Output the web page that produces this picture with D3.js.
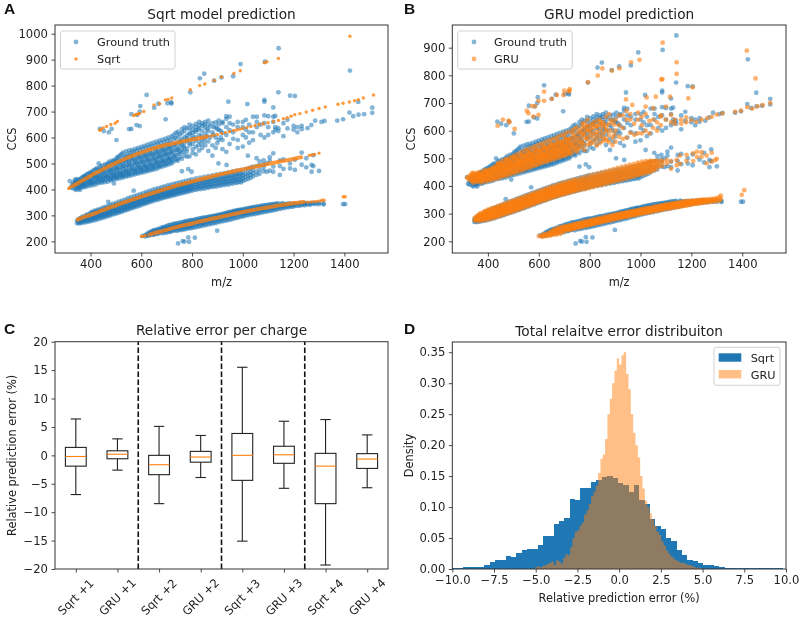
<!DOCTYPE html>
<html><head><meta charset="utf-8">
<script src="https://cdn.jsdelivr.net/npm/d3@7/dist/d3.min.js"></script>
<style>
html,body{margin:0;padding:0;background:#fff}
svg{display:block;filter:blur(0.4px)}
text{font-family:"DejaVu Sans",sans-serif;fill:#222}
</style></head><body><svg id="c" width="800" height="617"></svg>
<script>
// Each row: m/z followed by the CCS values read at that m/z
const truthLow=[[605,221],[615,219,224],[622,222,229],[629,221,226,233],[636,224,231,236],[643,226,233,240],[650,229,236,243,225],[657,230,238,244],[664,228,235,241,247],[671,232,240,248],[678,234,239,245,252],[685,231,241,247,255],[692,236,243,251,256],[699,233,240,249,258],[706,238,246,254,261],[713,236,243,252,263],[720,239,249,257,264],[727,241,247,255,267],[734,243,252,261,268],[741,240,250,258,269],[748,245,254,263,271],[755,243,251,260,272],[762,247,256,265,274],[769,245,253,268,276],[776,250,259,267,278],[783,248,256,271,279],[790,252,262,270,281],[797,250,259,274,282],[804,255,264,272,282],[811,253,268,277,284],[818,258,266,275,285],[825,256,270,281,287],[832,261,269,278,288],[839,259,273,284,290],[846,264,271,281,291],[853,262,276,287,292],[860,267,275,284,293],[867,265,279,290,295],[874,270,278,287,296],[881,268,282,293,297],[888,273,281,291,299],[895,271,285,296,300],[902,276,284,294,302],[909,274,288,299,303],[916,279,288,297,305],[923,277,291,302,307],[930,282,291,300,308],[937,280,295,306,310],[944,285,295,304,312],[951,283,298,309,313],[958,289,298,307,315],[965,287,302,313,317],[972,292,302,311,318],[979,290,306,316,320],[986,296,305,315,321],[993,294,309,319,322],[1000,298,306,315,323],[1007,297,310,319,325],[1014,302,309,318,326],[1021,300,313,321,328],[1028,305,312,320,329],[1035,303,316,324,331],[1042,307,315,323,332],[1049,305,319,326,333],[1056,310,318,326,334],[1063,308,321,329,335],[1070,313,320,328,336],[1077,311,324,331,337],[1084,315,323,331,338],[1091,314,327,333,339],[1098,317,326,333,340],[1105,316,329,335,341],[1112,320,328,335,342],[1119,319,331,337,343],[1126,323,331,337,344],[1133,322,333,339,345],[1140,326,333,339,346],[1148,325,335,341],[1156,329,335,342,347],[1164,328,337,343],[1172,332,338,344],[1180,331,339,345],[1188,334,340,346],[1196,333,341],[1204,336,342,347],[1214,337,343],[1224,337,342,348],[1234,340,345],[1244,339,344,348],[1254,342,347],[1264,341,346],[1274,344,348],[1286,343,348],[1300,343,348],[1318,342,346],[1395,343],[1403,343],[745,192],[763,201],[770,199],[785,215],[788,198],[811,214],[899,241]];
const truthMid=[[347,270,279],[352,272,284],[357,269,277,287],[362,274,282,290],[368,271,279,288,295],[374,276,285,293],[380,273,282,290,299],[386,278,288,297,303],[392,275,284,293,302],[398,281,290,299,308],[404,278,287,296,306,313],[410,284,293,302,311],[416,281,291,300,310,318],[422,287,296,305,315],[428,284,294,304,313,322],[434,291,300,309,319],[440,288,298,307,317,326],[446,294,303,313,322],[452,291,301,311,321,331],[458,298,307,316,326],[464,295,305,315,325,335],[470,301,311,320,330],[476,299,309,319,329,340],[482,305,314,324,334],[488,303,313,323,333,344],[494,309,318,328,338],[500,306,316,326,337,348],[506,312,322,332,342],[512,310,320,330,341,353],[518,316,326,336,346],[524,314,324,334,345,357],[530,320,330,340,350],[536,318,328,338,349,361],[542,324,334,344,354],[548,322,332,342,353,366],[554,328,338,348,358],[560,326,336,347,357,370],[566,332,342,352,362],[572,330,340,351,361,374],[578,336,346,356,366],[584,334,344,355,365,378],[590,340,350,360,370],[596,338,348,359,369,382],[602,344,354,364,374],[608,342,352,363,373,386],[614,348,358,368,378],[620,346,356,367,377,390],[626,352,362,372,382],[632,350,360,371,381,394],[638,356,366,376,386],[644,354,364,375,385,398],[650,360,369,379,389],[656,358,368,379,389,402],[662,363,373,383,393],[668,361,371,382,392,405],[674,367,377,387,397],[680,365,375,385,396,409],[686,370,380,390,400],[692,368,378,389,399,412],[698,373,383,393,403],[704,371,381,392,402,415],[710,376,386,396,406],[716,374,384,395,405,418],[722,379,389,399,409],[728,377,387,398,408,421],[734,382,392,402,412],[740,380,390,401,411,424],[746,385,395,405,415],[752,383,393,404,414,427],[758,388,398,408,418],[764,386,396,407,417,430],[770,391,401,411,421],[776,389,399,410,420,433],[782,394,404,414,424],[788,392,402,412,423,436],[794,397,407,417,427],[800,395,405,415,426,439],[808,400,410,420,430],[816,398,408,418,429,442],[824,403,413,423,433],[832,401,411,421,432,445],[840,405,415,426,436],[848,403,414,424,435,448],[856,408,418,428,438],[864,406,416,427,438,451],[872,411,421,431,441],[880,409,419,430,441,454],[888,413,423,434,444],[896,411,422,433,444,457],[904,416,426,436,447,500],[912,414,425,436,447,460],[920,419,429,439,449],[928,417,428,439,450,463],[936,421,431,441,452,494],[944,419,430,441,453,466],[952,424,434,444,455],[960,422,433,444,456,469],[968,427,437,447,458],[976,425,436,447,459,472],[984,429,439,450,461],[992,427,438,450,462,475],[1000,432,442,453,464],[1010,436,448,460,478],[1020,440,452,464,480,530],[1030,444,456,468,484],[1040,450,462,474,488],[1054,456,468,490,520],[1066,460,475,493,508],[1082,470,485,496,512],[1094,468,500],[1106,472,510,524],[1120,468,488,539],[1146,456,490,512],[1160,479,516],[1186,481,500],[1205,475,514],[1232,495,542],[1250,485,520],[1271,468,494],[1278,490,532],[1300,471],[798,468],[785,478],[760,470],[570,395],[470,352]];
const truthUpper=[[318,432],[322,408],[328,405,418],[333,415,427],[338,402,420,436],[343,398,412,428,440],[348,406,418,433],[353,403,414,426,440],[358,408,422,437,398],[363,411,426,442],[368,407,418,432,447],[373,414,424,438,450],[378,409,428,444,452],[384,412,422,436,449,458],[390,418,431,443,460],[396,414,426,438,452,464],[402,421,433,447,466],[408,416,428,442,456,470],[414,424,437,451,474],[420,419,431,446,461,478],[426,428,441,456,482],[432,424,436,451,468,500],[438,430,446,460,476,488],[444,426,441,455,472,492],[450,433,449,464,481],[456,428,443,458,475,496],[462,436,452,468,486],[468,430,446,462,480,500],[474,439,455,471,490,507],[480,434,449,465,484,502],[486,442,458,474,494,512],[492,423,438,452,469,488,508],[498,445,461,478,498,516],[504,440,456,472,492,510,522],[510,448,464,482,502,526],[516,443,459,476,496,514,530],[522,451,467,486,506,536],[528,446,462,480,500,520,542],[534,454,470,490,510,528],[540,449,465,484,504,524,546],[546,456,473,493,513,534],[552,452,468,487,508,528,550],[558,459,476,496,516,540],[564,455,471,490,511,532,552],[570,462,479,499,519,544],[576,458,474,493,514,535,556],[582,465,482,502,522,548],[588,461,477,496,517,538,560],[594,468,485,505,525,552],[600,464,480,499,520,541,564],[606,471,488,508,528,556],[612,467,483,503,524,545,568],[618,474,491,511,532,560],[624,470,486,507,527,548,572],[630,477,494,514,535,563],[636,473,489,510,530,552,576],[642,480,497,517,538,566],[648,476,493,513,534,555,580],[654,484,501,521,541,570],[660,479,497,517,537,558,584],[666,488,505,525,545,574],[672,484,501,521,541,562,588],[678,492,509,529,549,578],[684,488,505,525,545,566,592],[690,496,513,533,553,582],[696,492,510,530,549,570,596],[702,500,517,537,557,586],[708,496,514,534,554,574,600],[714,504,522,542,562,590],[720,500,518,538,558,578,604],[728,508,526,546,566,594,610],[736,514,532,552,572,598,618],[744,510,538,558,580,604,622],[752,524,546,566,588,612],[760,518,552,572,594,618,632],[770,530,560,580,600,625,640],[780,526,556,586,608,636],[790,527,570,592,612,635,650],[802,540,576,596,618,630,645],[815,535,564,600,628,640,652],[828,550,585,610,636,648,660],[840,560,592,625,645,655],[852,570,600,615,640,660],[864,548,585,625,650,665],[880,530,570,620,655],[893,560,600,640,658],[905,590,630,650,665],[920,555,590,618,655,660],[935,545,610,640,672,682],[948,575,628,655,680],[962,595,620,650],[980,560,590,640,660],[1000,565,610,640,660],[1012,630,600,668],[1025,580,620,650],[1040,590,620,680],[1055,640,680,660],[1070,610,650],[1085,600,655,685],[1100,640,610,682],[1120,620,660,680],[1128,630,683,640],[1140,625,636],[1160,605,655],[1176,635,668],[1200,630,645],[1215,620,640],[1232,632,645],[1255,636],[1270,648],[1285,665],[1310,660],[1322,664],[1372,665],[1395,670],[1420,696],[1435,682],[1456,688],[1478,690],[1510,695,715],[1455,737],[1018,729],[1085,738,745],[1140,774],[1186,761],[1205,760],[1120,716],[943,738],[696,670]];
const truthUpperFill=[[341,426],[357,431],[371,421],[387,444],[401,428,459],[419,452],[431,441,475],[447,471,438],[463,449,494],[479,474,441],[491,456,500],[503,482,449],[517,461,507],[527,491,454],[539,471,515],[551,498,461],[563,479,526],[577,505,468],[589,487,530],[601,511,474],[613,493,536],[623,519,480],[635,499,543],[647,525,486],[659,507,550],[671,531,493],[683,513,557],[695,539,500],[707,520,566],[719,546,510],[731,527,573],[743,552,518],[755,538,582],[767,566,545],[779,545,598],[791,579,618],[803,555,605],[813,587,622],[825,570,630],[837,606,575],[849,585,650],[859,632,605],[871,600,642],[885,640,610],[899,578,632],[913,625,600]];
const truthTop=[[1422,858],[1141,944],[1087,892],[991,883],[962,836],[916,832],[887,819],[848,846],[831,828],[793,774],[717,735],[719,731],[703,732],[667,730],[651,715],[621,764],[596,721],[594,700,644],[584,687],[561,690,633],[581,648],[552,632],[437,633],[452,625],[472,620],[483,633],[502,590]];
const sqrtLow=[[632,223,228],[648,228,233],[664,232,238],[680,236,242],[696,240,246],[712,245,251],[728,249,255],[744,253,259],[760,257,263],[776,261,266],[792,264,270],[808,268,274],[824,272,278],[840,276,281],[856,279,285],[872,283,289],[888,286,292],[904,289,295],[920,293,299],[936,296,302],[952,300,306],[968,303,309],[984,307,312],[1000,310,316],[1016,313,319],[1032,316,322],[1048,319,325],[1064,322,328],[1080,325,331],[1096,328,333],[1112,330,336],[1128,333,339],[1144,336,341],[1160,338,344],[1176,340,346],[1192,343,349],[1208,345,351],[1224,347,353],[1240,349,354]];
const sqrtLowEnds=[[600,218],[608,220],[616,222],[1256,351],[1268,352],[1280,353],[1292,354],[1304,356],[1312,358],[1320,358],[1396,372],[1403,372]];
const sqrtMid=[[350,281,286],[366,287,293],[382,293,299],[398,298,304],[414,304,310],[430,310,316],[446,316,322],[462,322,328],[478,328,334],[494,333,339],[510,339,345],[526,345,351],[542,350,356],[558,356,362],[574,361,367],[590,366,372],[606,371,377],[622,376,382],[638,381,387],[654,386,392],[670,391,397],[686,396,402],[702,401,407],[718,406,411],[734,410,416],[750,415,420],[766,419,424],[782,423,429],[798,427,433],[814,431,437],[830,435,441],[846,439,445],[862,443,449],[878,447,453],[894,451,457],[910,455,461],[926,458,464],[942,462,468],[958,465,471],[974,469,475],[990,472,478],[1006,475,481],[1022,479,485],[1038,482,488],[1054,485,491],[1070,489,495],[1086,493,498],[1102,496,502],[1118,499,505],[1134,502,508],[1150,505,511],[1166,508,514],[1182,511,517],[1198,514,520],[1214,518,524],[1230,521,526]];
const sqrtMidEnds=[[1262,531],[1272,533],[1282,535],[1300,540]];
const sqrtUpper=[[330,411,416],[346,419,425],[362,428,434],[378,437,443],[394,446,452],[410,455,461],[426,463,469],[442,471,477],[458,479,485],[474,487,493],[490,495,500],[506,502,507],[522,509,514],[538,516,521],[554,523,528],[570,529,534],[586,535,540],[602,540,546],[618,546,551],[634,551,556],[650,556,561],[666,561,566],[682,565,570],[698,569,574],[714,572,577],[730,576,580],[746,579,584],[762,583,587],[778,586,590],[794,589,593],[810,592,596],[826,595,599],[842,598,602],[858,602,605]];
const sqrtUpperEnds=[[314,404],[322,409],[874,606],[886,609],[900,612],[916,616],[932,619],[948,623],[964,627],[976,629],[988,632],[1000,635],[1016,639],[1032,642],[1048,646],[1064,650],[1080,653],[1100,657],[1120,662],[1140,666],[1160,672],[1175,676],[1190,682],[1205,688],[1225,692],[1250,698],[1275,705],[1300,712],[1325,718],[1375,728],[1395,732],[1420,737],[1440,742],[1455,746],[1475,752],[1515,764]];
const sqrtTop=[[437,628],[440,631],[450,637],[463,643],[480,650],[497,655],[506,662],[570,685],[578,688],[586,690],[593,693],[610,700],[650,725],[672,730],[695,745],[705,747],[720,752],[793,784],[830,800],[850,806],[887,820],[916,833],[965,847],[990,857],[1085,888],[1095,892],[1140,905],[1422,990]];
const gruLow=[[600,219],[612,216,221],[620,219,225],[628,218,226],[636,221,229],[644,221,226,233],[652,223,231,238],[660,226,234,242],[668,224,232,239,245],[676,229,237,247],[684,227,235,243,250],[692,232,240,252],[700,237,242,248,253],[708,239,244,250,255],[716,241,246,252,257],[724,242,247,253,258],[732,244,249,255,260],[740,246,251,257,262],[748,248,253,259,264],[756,249,254,260,265],[764,251,256,262,267],[772,253,258,264,269],[780,255,260,266,271],[788,256,261,267,272],[796,258,263,269,274],[804,260,265,271,276],[812,262,267,273,278],[820,263,268,274,279],[828,265,270,276,281],[836,267,272,278,283],[844,268,273,279,284],[852,270,275,281,286],[860,272,277,283,288],[868,273,278,284,289],[876,275,280,286,291],[884,277,282,288,293],[892,278,283,289,294],[900,280,285,291,296],[908,282,287,293,298],[916,283,288,294,299],[924,285,290,296,301],[932,286,291,297,302],[940,288,293,299,304],[948,289,294,300,305],[956,291,296,302,307],[964,292,297,303,308],[972,294,299,305,310],[980,295,300,306,311],[988,297,302,308,313],[996,298,303,309,314],[1004,300,305,311,316],[1012,301,306,312,317],[1020,303,308,314,319],[1028,304,309,315,320],[1036,305,310,316,321],[1044,307,312,318,323],[1052,308,313,319,324],[1060,310,315,321,326],[1068,311,316,322,327],[1076,313,318,324,329],[1084,314,319,325,330],[1092,316,321,327,332],[1100,317,322,328,333],[1108,318,323,329,334],[1116,319,324,330,335],[1124,321,326,332,337],[1132,322,327,333,338],[1140,323,328,334,339],[1148,324,329,335,340],[1156,325,330,336,341],[1164,327,332,338,343],[1172,328,333,339,344],[1180,329,334,340,345],[1188,331,335,341,345],[1196,332,336,342,346],[1204,334,338,343,346],[1212,335,339,344,347],[1220,336,340,345,348],[1228,337,341,345,349],[1236,338,342,346,350],[1244,339,343,347,351],[1252,340,344,348,351],[1260,341,346,351],[1270,342,347,352],[1280,343,348,353],[1290,344,349,354],[1300,346,351,356],[1310,347,360],[1316,352,365],[1398,368],[1408,385]];
const gruMid=[[348,276,284],[354,274,281,289],[360,277,285,293],[366,273,281,290,297],[372,278,286,294,302],[378,275,283,292,300],[384,279,288,297,306],[390,277,285,294,303,310],[396,282,291,300,309],[402,279,288,297,306,315],[408,285,294,303,312],[414,282,291,300,310,319],[420,288,297,306,316],[426,285,294,304,313,323],[432,291,300,310,319],[438,288,298,308,317,327],[444,295,304,314,323],[450,292,302,312,321,331],[456,299,308,318,327],[462,296,306,315,325,335],[468,302,312,321,331],[474,300,309,319,329,339],[480,306,315,325,335],[486,303,313,323,333,343],[492,309,319,329,339],[498,307,317,327,337,347],[504,313,323,333,343],[510,311,321,331,341,351],[516,317,327,337,346],[522,315,325,335,345,355],[528,321,331,341,350],[534,319,329,339,349,359],[540,325,335,345,354],[546,323,333,343,353,363],[552,329,339,349,358],[558,327,337,347,357,367],[564,333,343,353,362],[570,331,341,351,361,371],[576,337,347,357,366],[582,335,345,355,365,375],[588,341,351,361,370],[594,339,349,359,369,379],[600,345,355,365,374],[606,343,353,363,373,383],[612,349,358,368,378],[618,347,357,367,377,387],[624,352,362,372,382],[630,350,360,370,380,391],[636,356,366,376,386],[642,354,364,374,384,395],[648,360,370,379,389],[654,358,368,378,388,399],[660,363,373,383,393],[666,361,371,381,391,402],[672,367,377,387,397],[678,365,375,385,395,406],[684,370,380,390,400],[690,368,378,388,398,409],[696,373,383,393,403],[702,371,381,391,402,413],[708,376,386,396,406],[714,374,384,394,405,416],[720,379,389,399,409],[726,377,387,397,408,419],[732,382,392,402,412],[738,380,390,401,411,422],[744,385,395,405,415],[750,383,393,404,414,425],[758,388,398,408,418],[766,386,396,407,418,429],[774,391,401,411,422],[782,389,400,410,421,433],[790,394,405,415,426],[798,392,403,414,425,437],[806,398,409,419,430],[814,396,407,418,429,441],[822,402,412,423,434],[830,400,411,422,433,445],[838,405,416,427,438],[846,403,415,426,437,449],[854,409,420,431,442],[862,407,418,430,441,453],[870,413,424,435,446],[878,411,422,434,445,457],[886,417,428,439,450],[894,415,426,437,449,461],[902,420,431,442,453],[910,418,430,441,453,465],[918,424,435,446,457],[926,422,433,445,457,469],[934,428,439,450,461],[942,426,437,449,461,473],[950,432,443,454,465],[958,430,441,453,465,477],[966,436,447,458,469],[974,434,445,457,469,480],[982,440,451,462,473],[990,438,449,461,473,484],[998,444,455,466,477],[1006,442,453,465,477,488],[1014,448,459,470,481],[1022,446,457,469,481,490],[1030,452,463,474,485],[1038,450,461,473,485,492],[1046,456,467,478,489],[1054,458,469,480,490],[1062,462,473,484,492],[1072,470,478,490],[1085,472,485,492],[1103,482,494],[1120,462,490],[1142,475,494],[1155,480,510],[1181,512,490],[1207,518,490],[1222,505,524],[1240,506,522],[1260,482,510],[1280,488,520],[1293,494],[1300,498]];
const gruUpper=[[318,430],[325,424,434],[332,420,430,440],[338,416,428,440,446],[344,412,424,436,447],[350,418,430,442],[356,414,423,434,445],[362,420,431,440,449],[368,416,426,437,447],[374,412,422,433,444],[380,418,429,441,452],[386,422,434,447,456],[392,416,427,440,452],[398,424,436,448,458],[404,419,430,443,456],[410,426,438,450,462],[416,422,433,446,460],[422,429,441,454,466],[428,425,436,449,463,472],[434,432,444,458,470],[440,428,440,453,467,482],[446,436,448,462,476],[452,432,444,458,472,488],[458,440,452,466,481],[464,435,448,462,476,493],[470,443,456,470,486],[476,438,452,466,481,498],[482,447,460,474,490],[488,442,456,470,486,503],[494,450,463,478,495],[500,446,460,474,490,508],[506,454,467,482,498],[512,449,464,478,494,513],[518,458,470,486,503],[524,453,468,482,499,518],[530,462,474,490,507],[536,457,472,486,503,524],[542,465,478,494,512],[548,461,476,491,508,530],[554,469,482,498,516],[560,465,480,495,512,534],[566,473,486,502,520],[572,469,484,499,516,538],[578,477,490,506,524],[584,473,488,503,520,543],[590,481,494,510,528],[596,477,492,507,524,548],[602,485,498,514,532],[608,481,496,511,528,552],[614,489,502,518,536],[620,485,500,515,532,556],[626,492,506,522,540],[632,488,503,519,536,561],[638,496,510,526,544],[644,492,507,523,540,566],[650,500,514,530,548],[656,496,511,527,545,570],[662,503,518,534,552],[668,499,515,531,549,575],[674,507,522,538,556],[680,503,519,535,553,580],[686,511,526,542,560],[692,507,523,539,557,585],[698,515,530,546,564],[704,510,527,543,561,590],[710,518,534,550,568],[716,514,531,547,566,595],[722,522,538,554,572],[730,518,535,552,570,600],[740,530,546,562,580,606],[750,524,542,558,590,612],[760,536,552,575,600],[770,542,560,585,610,625],[780,530,574,596,614,628],[792,548,578,600,618,640],[804,552,584,606,622],[816,558,590,610,630],[828,546,568,595,616,636],[840,555,600,620,640],[852,562,590,612,630],[864,570,598,618,650],[876,558,585,624,660],[890,548,575,630],[902,560,600,640],[915,578,620,655],[930,570,610,655],[945,575,640,672],[960,592,660,640],[975,585,625],[990,590,640,665],[1005,620,650,590],[1020,600,660,687],[1035,590,635],[1050,610,640,681],[1065,600,630],[1080,655,620,651],[1100,640,687],[1120,630,657],[1135,625,640],[1160,640,625],[1180,630,648],[1200,638],[1220,632],[1240,640],[1262,645],[1280,650],[1300,658],[1322,662],[1372,668],[1395,672],[1420,685],[1440,680],[1460,688],[1480,692],[1510,700]];
const gruUpperFill=[[353,427],[377,437],[399,441],[421,458],[441,464,480],[459,474,458],[473,462,495],[487,480,466],[503,474,504],[519,492,478],[533,484,512],[547,505,490],[559,496,524],[571,512,492],[587,507,535],[603,525,503],[617,512,544],[631,536,510],[647,526,554],[661,541,516],[673,530,566],[689,552,520],[703,540,576],[717,560,526],[733,548,588],[749,572,535],[763,562,595],[777,588,552],[789,570,608],[801,598,562],[813,575,620],[827,615,585],[839,580,630],[853,625,575],[867,605,565],[883,600,640],[897,622,585]];
const gruTop=[[1087,918],[996,856],[963,847],[1142,847,805],[1086,786],[1082,785],[1418,889],[1452,789],[887,817],[917,825],[850,825],[832,799],[793,775],[721,750,745],[717,741],[700,745],[697,729],[671,729],[651,715],[621,741,708],[599,708,657],[586,689],[573,689],[553,672],[559,663],[579,651],[459,640],[481,636],[438,618],[485,630],[505,606],[943,713],[968,693],[1024,720],[1060,723],[1116,723],[1188,717],[1205,757]];
const chargeLabels=["Sqrt +1","GRU +1","Sqrt +2","GRU +2","Sqrt +3","GRU +3","Sqrt +4","GRU +4"];
const whiskerLow=[-6.9,-2.6,-8.5,-3.9,-15.1,-5.8,-19.3,-5.7];
const quartileLow=[-1.9,-0.6,-3.4,-1.2,-4.4,-1.4,-8.5,-2.3];
const medians=[-0.2,0.2,-1.65,-0.3,0,0.1,-1.9,-0.65];
const quartileHigh=[1.4,0.8,0,0.7,3.85,1.6,0.35,0.3];
const whiskerHigh=[6.4,2.9,5.1,3.5,15.5,6,6.3,3.6];
const dividers=[2.5,4.5,6.5];
const sqrtBinStart=-10,sqrtBinWidth=0.32;
const sqrtDensity=[.002,.002,.004,.003,.003,.004,.007,.011,.015,.015,.021,.019,.026,.03,.032,.033,.039,.054,.053,.073,.077,.082,.113,.111,.131,.13,.14,.144,.148,.15,.147,.139,.136,.125,.135,.112,.105,.08,.07,.065,.05,.045,.03,.022,.015,.013,.009,.007,.006,.005,.003,.002,.001,.001,.001,.001,.002,.001,.002,.001,.001,.001];
const gruBinStart=-5.04,gruBinWidth=0.14;
const gruDensity=[.003,.004,.003,.005,.006,.008,.01,.012,.007,.014,.012,.009,.018,.024,.022,.035,.05,.06,.062,.07,.075,.088,.095,.105,.118,.125,.135,.155,.178,.185,.21,.25,.275,.3,.32,.34,.33,.345,.35,.315,.29,.25,.22,.2,.18,.15,.13,.11,.1,.09,.08,.07,.06,.055,.045,.038,.03,.025,.02,.017,.014,.012,.01,.01,.008,.007,.006,.005,.003,.002,.002,.001];
const xTicksAB=[400,600,800,1000,1200,1400];
const yTicksA=[200,300,400,500,600,700,800,900,1000];
const yTicksB=[200,300,400,500,600,700,800,900];
const yTicksC=[-20,-15,-10,-5,0,5,10,15,20];
const xTicksD=[-10,-7.5,-5,-2.5,0,2.5,5,7.5,10];
const yTicksD=[0,.05,.1,.15,.2,.25,.3,.35];

const BLUE="#1f77b4",ORANGE="#ff7f0e",INK="#333";
const svg=d3.select("#c");
const minus=s=>String(s).replace("-","\u2212");
const rows=c=>c.flatMap(([m,...v])=>v.map(y=>[m,y]));

function frame(g,x,y,xt,yt,xf,yf,title,xl,yl,ylx){
  const [x0,x1]=x.range(),[y1,y0]=y.range();
  const ax=g.append("g").attr("transform",`translate(0,${y1})`).call(d3.axisBottom(x).tickValues(xt).tickSize(3.5).tickPadding(3.5).tickFormat(xf));
  const ay=g.append("g").attr("transform",`translate(${x0},0)`).call(d3.axisLeft(y).tickValues(yt).tickSize(3.5).tickPadding(3.5).tickFormat(yf));
  for(const a of [ax,ay]){a.select(".domain").remove();a.selectAll("line").attr("stroke",INK).attr("stroke-width",.9);a.selectAll("text").style("font-size","11.6px").attr("fill","#222");}
  g.append("rect").attr("x",x0).attr("y",y0).attr("width",x1-x0).attr("height",y1-y0).attr("fill","none").attr("stroke",INK).attr("stroke-width",1);
  g.append("text").attr("x",(x0+x1)/2).attr("y",y0-6.5).attr("text-anchor","middle").style("font-size","13.7px").text(title);
  if(xl)g.append("text").attr("x",(x0+x1)/2).attr("y",y1+33).attr("text-anchor","middle").style("font-size","11.4px").text(xl);
  g.append("text").attr("transform",`translate(${ylx},${(y0+y1)/2}) rotate(-90)`).attr("text-anchor","middle").style("font-size","11.4px").text(yl);
}
function dots(g,pts,x,y,r,c,o){
  g.append("g").selectAll("circle").data(pts).join("circle").attr("cx",d=>x(d[0])).attr("cy",d=>y(d[1])).attr("r",r).attr("fill",c).attr("opacity",o);
}
function legendScatter(g,bx,by,mx,tx,name,r2,o2){
  g.append("rect").attr("x",bx).attr("y",by).attr("width",114.5).attr("height",38).attr("rx",2).attr("fill","#fff").attr("fill-opacity",.85).attr("stroke","#ccc").attr("stroke-width",.9);
  g.append("circle").attr("cx",mx).attr("cy",by+11).attr("r",2.4).attr("fill",BLUE).attr("opacity",.55);
  g.append("circle").attr("cx",mx).attr("cy",by+28).attr("r",r2).attr("fill",ORANGE).attr("opacity",o2);
  g.append("text").attr("x",tx).attr("y",by+15).style("font-size","11.3px").text("Ground truth");
  g.append("text").attr("x",tx).attr("y",by+32).style("font-size","11.3px").text(name);
}
function letter(t,x,y){svg.append("text").attr("x",x).attr("y",y).style("font-family","'Liberation Sans',sans-serif").style("font-weight","700").style("font-size","15.5px").style("fill","#111").text(t);}

const truth=[...rows(truthLow),...rows(truthMid),...rows(truthUpper),...rows(truthUpperFill),...rows(truthTop)];

// Panel A
{const g=svg.append("g");
 const x=d3.scaleLinear().domain([260,1572]).range([55,388]);
 const y=d3.scaleLinear().domain([155,1033.5]).range([253,25]);
 dots(g,truth,x,y,2.4,BLUE,.55);
 const band=d3.line().x(d=>x(d[0])).y(d=>y((d[1]+d[2])/2)).curve(d3.curveMonotoneX);
 for(const b of [sqrtLow,sqrtMid,sqrtUpper])g.append("path").attr("d",band(b)).attr("fill","none").attr("stroke",ORANGE).attr("stroke-width",4).attr("stroke-linecap","round").attr("opacity",.8);
 dots(g,[...rows(sqrtLowEnds),...rows(sqrtMidEnds),...rows(sqrtUpperEnds),...rows(sqrtTop)],x,y,1.7,ORANGE,.8);
 frame(g,x,y,xTicksAB,yTicksA,d=>d,d=>d,"Sqrt model prediction","m/z","CCS",16);
 legendScatter(g,60.5,31,76,97,"Sqrt",1.7,.8);}

// Panel B
{const g=svg.append("g");
 const x=d3.scaleLinear().domain([260,1572]).range([452.3,786]);
 const y=d3.scaleLinear().domain([157.7,982]).range([253,25]);
 dots(g,truth,x,y,2.4,BLUE,.55);
 dots(g,[...rows(gruLow),...rows(gruMid),...rows(gruUpper),...rows(gruUpperFill),...rows(gruTop)],x,y,2.4,ORANGE,.6);
 frame(g,x,y,xTicksAB,yTicksB,d=>d,d=>d,"GRU model prediction","m/z","CCS",415);
 legendScatter(g,457.7,31,474,494,"GRU",2.4,.6);}

// Panel C
{const g=svg.append("g");
 const x=d3.scaleLinear().domain([.5,8.5]).range([55,388]);
 const y=d3.scaleLinear().domain([-20,20]).range([569,341.7]);
 const cw=x(1.25)-x(1), bw=x(1.25)-x(1);
 chargeLabels.forEach((l,i)=>{
  const b=g.append("g"),c=x(i+1);
  b.append("line").attr("x1",c).attr("x2",c).attr("y1",y(quartileHigh[i])).attr("y2",y(whiskerHigh[i])).attr("stroke","#222").attr("stroke-width",1.1);
  b.append("line").attr("x1",c).attr("x2",c).attr("y1",y(quartileLow[i])).attr("y2",y(whiskerLow[i])).attr("stroke","#222").attr("stroke-width",1.1);
  for(const w of [whiskerLow[i],whiskerHigh[i]])b.append("line").attr("x1",c-cw/2).attr("x2",c+cw/2).attr("y1",y(w)).attr("y2",y(w)).attr("stroke","#222").attr("stroke-width",1.1);
  b.append("rect").attr("x",c-bw).attr("width",bw*2).attr("y",y(quartileHigh[i])).attr("height",y(quartileLow[i])-y(quartileHigh[i])).attr("fill","none").attr("stroke","#222").attr("stroke-width",1.1);
  b.append("line").attr("x1",c-bw).attr("x2",c+bw).attr("y1",y(medians[i])).attr("y2",y(medians[i])).attr("stroke",ORANGE).attr("stroke-width",1.1);
 });
 g.selectAll(".div").data(dividers).join("line").attr("x1",d=>x(d)).attr("x2",d=>x(d)).attr("y1",y(-20)).attr("y2",y(20)).attr("stroke","#111").attr("stroke-width",1.6).attr("stroke-dasharray","5.5 2.5");
 frame(g,x,y,[1,2,3,4,5,6,7,8],yTicksC,()=>"",minus,"Relative error per charge",null,"Relative prediction error (%)",16);
 chargeLabels.forEach((l,i)=>g.append("text").attr("transform",`translate(${x(i+1)},597) rotate(-45)`).attr("text-anchor","middle").attr("dy",".35em").style("font-size","11.6px").text(l));}

// Panel D
{const g=svg.append("g");
 const x=d3.scaleLinear().domain([-10,10]).range([452.3,786]);
 const y=d3.scaleLinear().domain([0,.3665]).range([569,342]);
 const bars=(vals,start,w,c,o)=>g.append("g").selectAll("rect").data(vals).join("rect")
   .attr("x",(d,i)=>x(start+i*w)).attr("width",(d,i)=>x(start+(i+1)*w)-x(start+i*w)+.05)
   .attr("y",d=>y(d)).attr("height",d=>y(0)-y(d)).attr("fill",c).attr("fill-opacity",o).attr("shape-rendering","crispEdges");
 bars(sqrtDensity,sqrtBinStart,sqrtBinWidth,BLUE,1);
 const pts=gruDensity.flatMap((d,i)=>[[gruBinStart+i*gruBinWidth,d],[gruBinStart+(i+1)*gruBinWidth,d]]);
 g.append("path").attr("d",d3.area().x(d=>x(d[0])).y0(y(0)).y1(d=>y(d[1]))(pts)).attr("fill",ORANGE).attr("fill-opacity",.5);
 frame(g,x,y,xTicksD,yTicksD,d=>minus(d3.format(".1f")(d)),d=>d3.format(".2f")(d),"Total relaitve error distribuiton","Relative prediction error (%)","Density",413);
 g.append("rect").attr("x",714).attr("y",347.3).attr("width",66).attr("height",38).attr("rx",2).attr("fill","#fff").attr("fill-opacity",.85).attr("stroke","#ccc").attr("stroke-width",.9);
 g.append("rect").attr("x",718.7).attr("y",353.3).attr("width",22.6).attr("height",8.4).attr("fill",BLUE);
 g.append("rect").attr("x",718.7).attr("y",370).attr("width",22.6).attr("height",8.4).attr("fill",ORANGE).attr("fill-opacity",.5);
 g.append("text").attr("x",750.7).attr("y",362).style("font-size","11.3px").text("Sqrt");
 g.append("text").attr("x",750.7).attr("y",379).style("font-size","11.3px").text("GRU");}

letter("A",4,14);letter("B",404,14);letter("C",4,334);letter("D",404,334);
</script></body></html>
